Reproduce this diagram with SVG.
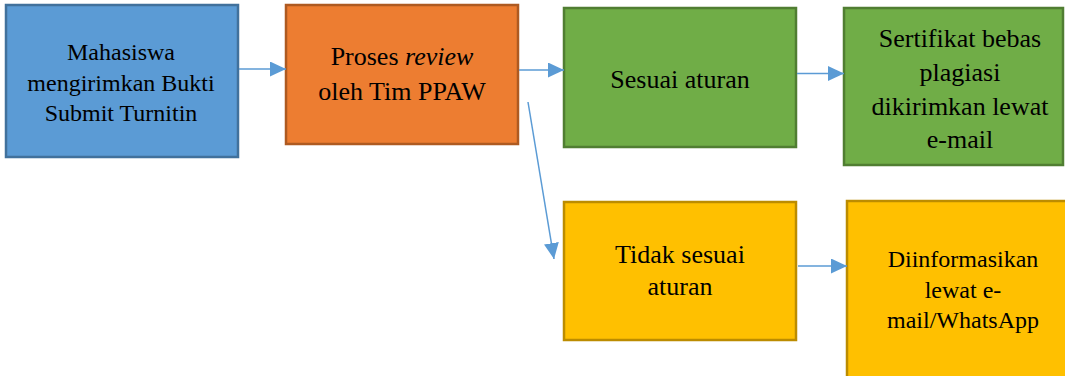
<svg xmlns="http://www.w3.org/2000/svg" width="1065" height="376" viewBox="0 0 1065 376">
<defs>
<style>
text{font-family:'Liberation Serif','Times New Roman',Tinos,'DejaVu Serif',serif;fill:#000;text-anchor:middle}
.s24{font-size:24px}
.s26{font-size:26px}
.blue{fill:#5B9BD5;stroke:#41719C;stroke-width:2.5}
.orange{fill:#ED7D31;stroke:#AE5A21;stroke-width:2.5}
.green{fill:#70AD47;stroke:#507E32;stroke-width:2.5}
.yellow{fill:#FFC000;stroke:#BC8C00;stroke-width:2.5}
.c{stroke:#5B9BD5;stroke-width:1.5;fill:none;marker-end:url(#ah)}
</style>
<marker id="ah" viewBox="0 0 16 15" refX="16" refY="7.5" markerWidth="16" markerHeight="15" markerUnits="userSpaceOnUse" orient="auto">
<path d="M0,0 L16,7.5 L0,15 Z" fill="#5B9BD5"/>
</marker>
</defs>
<rect width="1065" height="376" fill="#fff"/>
<g id="node-mahasiswa">
<rect class="blue" x="6" y="5" width="232" height="152"/>
<text class="s24" x="121" y="60" font-family="Liberation Serif, serif">Mahasiswa</text>
<text class="s24" x="121" y="90.5" font-family="Liberation Serif, serif">mengirimkan Bukti</text>
<text class="s24" x="121" y="121" font-family="Liberation Serif, serif">Submit Turnitin</text>
</g>
<g id="node-review">
<rect class="orange" x="286" y="5" width="232" height="139"/>
<text class="s26" x="402" y="65" font-family="Liberation Serif, serif">Proses <tspan font-style="italic">review</tspan></text>
<text class="s26" x="402" y="100" font-family="Liberation Serif, serif">oleh Tim PPAW</text>
</g>
<g id="node-sesuai">
<rect class="green" x="564" y="8" width="232" height="139"/>
<text class="s26" x="680" y="88" font-family="Liberation Serif, serif">Sesuai aturan</text>
</g>
<g id="node-sertifikat">
<rect class="green" x="844" y="8" width="219" height="157"/>
<text class="s26" x="960" y="47" font-family="Liberation Serif, serif">Sertifikat bebas</text>
<text class="s26" x="960" y="81" font-family="Liberation Serif, serif">plagiasi</text>
<text class="s26" x="960" y="115" font-family="Liberation Serif, serif">dikirimkan lewat</text>
<text class="s26" x="960" y="148" font-family="Liberation Serif, serif">e-mail</text>
</g>
<g id="node-tidak">
<rect class="yellow" x="564" y="202" width="232" height="138"/>
<text class="s26" x="680" y="263" font-family="Liberation Serif, serif">Tidak sesuai</text>
<text class="s26" x="680" y="295" font-family="Liberation Serif, serif">aturan</text>
</g>
<g id="node-diinformasikan">
<rect class="yellow" x="847" y="201" width="222" height="180"/>
<text class="s24" x="963" y="267" font-family="Liberation Serif, serif">Diinformasikan</text>
<text class="s24" x="963" y="298" font-family="Liberation Serif, serif">lewat e-</text>
<text class="s24" x="963" y="328" font-family="Liberation Serif, serif">mail/WhatsApp</text>
</g>
<g id="connectors">
<line class="c" x1="239" y1="69" x2="286" y2="69"/>
<line class="c" x1="519" y1="70" x2="564" y2="70"/>
<line class="c" x1="797" y1="73.5" x2="844" y2="73.5"/>
<line class="c" x1="528" y1="102" x2="554" y2="259"/>
<line class="c" x1="798" y1="266" x2="847" y2="266"/>
</g>
</svg>
